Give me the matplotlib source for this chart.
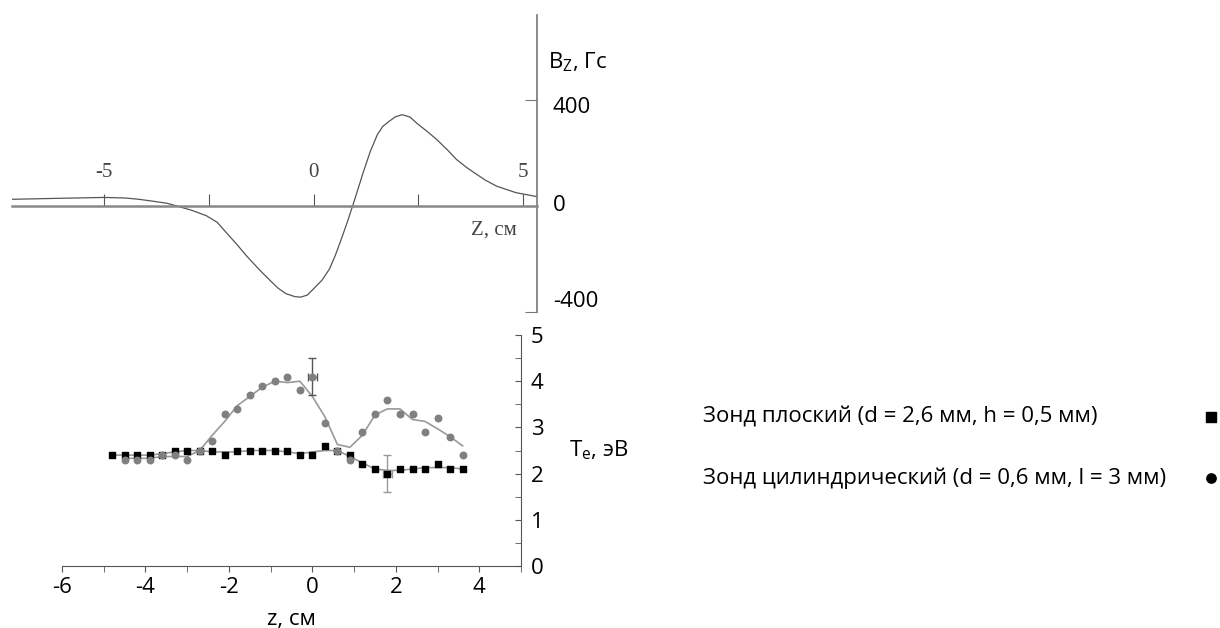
import matplotlib
matplotlib.use('Agg')
import matplotlib.pyplot as plt

plt.rcParams['font.family'] = ['Open Sans', 'DejaVu Sans']
plt.rcParams['axes.unicode_minus'] = False

# B_z(z) profile
bz_z = [-7.2, -6.0, -5.0, -4.5, -4.17, -3.8, -3.5, -3.27, -2.9, -2.56, -2.3,
        -2.09, -1.85, -1.61, -1.3, -1.04, -0.85, -0.66, -0.45, -0.31, -0.15,
        0.0, 0.2, 0.38, 0.52, 0.66, 0.8, 0.93, 1.05, 1.18, 1.35, 1.52, 1.65,
        1.8, 1.95, 2.11, 2.3, 2.46, 2.7, 2.94, 3.2, 3.41, 3.65, 3.89, 4.1,
        4.36, 4.6, 4.83, 5.1, 5.33]
bz_val = [25, 29, 32, 30, 25, 17, 10, 0, -17, -37, -62,
          -100, -142, -187, -240, -281, -310, -331, -342, -344, -336,
          -312, -280, -237, -185, -125, -62, 0, 60, 125, 205, 269, 300,
          319, 336, 344, 335, 312, 282, 250, 210, 175, 145, 119, 97,
          75, 62, 50, 42, 35]

# Te(z), flat probe (squares) and cylindrical probe (circles)
flat_z = [-4.8, -4.5, -4.2, -3.9, -3.6, -3.3, -3.0, -2.7, -2.4, -2.1, -1.8,
          -1.5, -1.2, -0.9, -0.6, -0.3, 0.0, 0.3, 0.6, 0.9, 1.2, 1.5, 1.8,
          2.1, 2.4, 2.7, 3.0, 3.3, 3.6]
flat_te = [2.4, 2.4, 2.4, 2.4, 2.4, 2.5, 2.5, 2.5, 2.5, 2.4, 2.5,
           2.5, 2.5, 2.5, 2.5, 2.4, 2.4, 2.6, 2.5, 2.4, 2.2, 2.1, 2.0,
           2.1, 2.1, 2.1, 2.2, 2.1, 2.1]
flat_fit = [2.4, 2.4, 2.4, 2.4, 2.43, 2.47, 2.5, 2.5, 2.47, 2.47, 2.47,
            2.5, 2.5, 2.5, 2.47, 2.43, 2.47, 2.5, 2.5, 2.37, 2.23, 2.1, 2.07,
            2.07, 2.1, 2.13, 2.13, 2.13, 2.1]

cyl_z = [-4.5, -4.2, -3.9, -3.6, -3.3, -3.0, -2.7, -2.4, -2.1, -1.8, -1.5,
         -1.2, -0.9, -0.6, -0.3, 0.0, 0.3, 0.6, 0.9, 1.2, 1.5, 1.8, 2.1,
         2.4, 2.7, 3.0, 3.3, 3.6]
cyl_te = [2.3, 2.3, 2.3, 2.4, 2.4, 2.3, 2.5, 2.7, 3.3, 3.4, 3.7,
          3.9, 4.0, 4.1, 3.8, 4.1, 3.1, 2.5, 2.3, 2.9, 3.3, 3.6, 3.3,
          3.3, 2.9, 3.2, 2.8, 2.4]
cyl_fit = [2.33, 2.33, 2.33, 2.37, 2.37, 2.37, 2.5, 2.83, 3.13, 3.47, 3.67,
           3.87, 4.0, 3.97, 4.0, 3.67, 3.23, 2.63, 2.57, 2.83, 3.27, 3.4, 3.4,
           3.17, 3.13, 2.97, 2.8, 2.6]

# error bars shown on one point of each series
err_cyl = (0.0, 4.1, 0.4)
err_flat = (1.8, 2.0, 0.4)

legend_labels = ['Зонд плоский (d = 2,6 мм, h = 0,5 мм)',
                 'Зонд цилиндрический (d = 0,6 мм, l = 3 мм)']

fig = plt.figure(figsize=(12.2, 6.28), dpi=100)

# ---- top panel: B_z ----
ax1 = fig.add_axes([12 / 1220, 1 - 312 / 628, 525 / 1220, 297 / 628])
ax1.plot(bz_z, bz_val, color='#555555', lw=0.9)
ax1.set_xlim(-7.2, 5.33)
ax1.set_ylim(-400, 720)
ax1.patch.set_alpha(0)
ax1.spines['left'].set_visible(False)
ax1.spines['top'].set_visible(False)
ax1.spines['bottom'].set_position(('data', 0))
ax1.spines['bottom'].set_color('#888888')
ax1.spines['bottom'].set_linewidth(1.8)
ax1.spines['right'].set_color('#777777')
ax1.spines['right'].set_linewidth(1.2)
ax1.set_xticks([-5, -2.5, 0, 2.5, 5])
ax1.tick_params(axis='x', direction='in', length=9, color='#555555',
                labelbottom=False)
ax1.yaxis.tick_right()
ax1.set_yticks([-400, 0, 400])
ax1.tick_params(axis='y', direction='in', length=9, color='#777777',
                labelright=False)
for yv, ypos in [(400, 370), (0, 0), (-400, -362)]:
    ax1.text(5.71, ypos, str(yv), ha='left', va='center', fontsize=16)
for xv in [-5, 0, 5]:
    ax1.text(xv, 125, str(xv), ha='center', va='center', fontsize=15,
             family='Liberation Serif', color='#444444')
ax1.text(4.3, -92, 'Z, см', ha='center', va='center', fontsize=15,
         family='Liberation Serif', color='#444444')
ax1.text(1.02, 0.84, r'B$_\mathregular{Z}$, Гс', transform=ax1.transAxes,
         ha='left', va='center', fontsize=16)

# ---- bottom panel: Te ----
ax2 = fig.add_axes([62 / 1220, 1 - 566 / 628, 459 / 1220, 231 / 628])
ax2.plot(flat_z, flat_fit, color='#999999', lw=1.2, zorder=2)
ax2.plot(cyl_z, cyl_fit, color='#999999', lw=1.2, zorder=2)
ax2.errorbar(err_flat[0], err_flat[1], yerr=err_flat[2], xerr=0.1,
             fmt='none', ecolor='#999999', elinewidth=1, capsize=3, zorder=3)
ax2.errorbar(err_cyl[0], err_cyl[1], yerr=err_cyl[2], xerr=0.1,
             fmt='none', ecolor='#555555', elinewidth=1, capsize=3, zorder=3)
ax2.scatter(flat_z, flat_te, marker='s', s=22, color='black', zorder=4)
ax2.scatter(cyl_z, cyl_te, marker='o', s=22, color='#808080', zorder=5)
ax2.set_xlim(-6, 5)
ax2.set_ylim(0, 5)
ax2.patch.set_alpha(0)
ax2.spines['left'].set_visible(False)
ax2.spines['top'].set_visible(False)
ax2.spines['bottom'].set_color('#555555')
ax2.spines['right'].set_color('#555555')
ax2.set_xticks([-6, -4, -2, 0, 2, 4])
ax2.set_xticks(range(-6, 6), minor=True)
ax2.tick_params(axis='x', which='both', direction='out', length=4,
                color='#555555', labelsize=16, pad=4)
ax2.yaxis.tick_right()
ax2.set_yticks(range(0, 6))
ax2.set_yticks([0.5 * i for i in range(11)], minor=True)
ax2.tick_params(axis='y', which='both', direction='in', length=4,
                color='#555555', labelsize=16, pad=7)
ax2.set_xlabel('z, см', fontsize=16, labelpad=8)
ax2.text(1.105, 0.50, r'T$_\mathregular{e}$, эВ', transform=ax2.transAxes,
         ha='left', va='center', fontsize=16)

# legend drawn as text rows with markers on the right
fig.text(703 / 1220, 1 - 417 / 628, legend_labels[0], fontsize=16,
         ha='left', va='center')
fig.text(703 / 1220, 1 - 478 / 628, legend_labels[1], fontsize=16,
         ha='left', va='center')
lax = fig.add_axes([0, 0, 1, 1])
lax.set_xlim(0, 1220)
lax.set_ylim(628, 0)
lax.axis('off')
lax.scatter([1211], [417], marker='s', s=45, color='black')
lax.scatter([1211], [478], marker='o', s=45, color='black')

fig.savefig('out.png', dpi=100)
